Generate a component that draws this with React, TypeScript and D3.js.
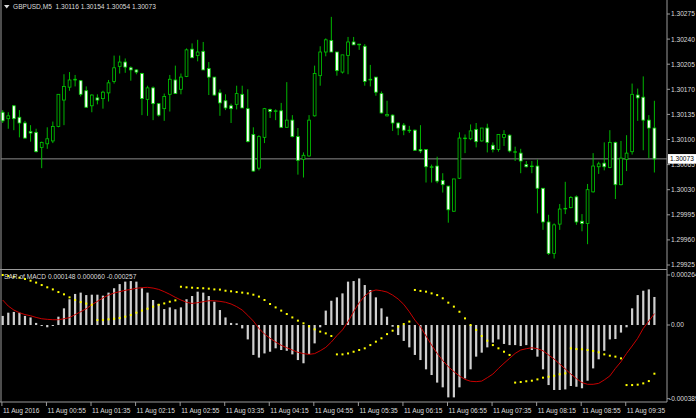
import * as d3 from 'd3';

// GBPUSD M5, 11 Aug 2016, bars from 00:15 to 10:00
const opens = [
  1.30138, 1.30129, 1.30147, 1.30131, 1.30123, 1.30111, 1.30110, 1.30089, 1.30094, 1.30098,
  1.30118, 1.30155, 1.30173, 1.30183, 1.30182, 1.30168, 1.30147, 1.30158, 1.30157, 1.30165,
  1.30181, 1.30202, 1.30208, 1.30200, 1.30197, 1.30192, 1.30156, 1.30172, 1.30150, 1.30143,
  1.30163, 1.30183, 1.30170, 1.30188, 1.30226, 1.30217, 1.30223, 1.30199, 1.30187, 1.30165,
  1.30154, 1.30147, 1.30149, 1.30163, 1.30143, 1.30107, 1.30060, 1.30103, 1.30142, 1.30139,
  1.30140, 1.30117, 1.30127, 1.30104, 1.30072, 1.30077, 1.30133, 1.30189, 1.30222, 1.30238,
  1.30222, 1.30194, 1.30217, 1.30236, 1.30233, 1.30230, 1.30184, 1.30187, 1.30164, 1.30133,
  1.30134, 1.30123, 1.30120, 1.30113, 1.30113, 1.30086, 1.30086, 1.30062, 1.30063, 1.30043,
  1.30035, 1.30000, 1.30046, 1.30102, 1.30101, 1.30114, 1.30098, 1.30116, 1.30092, 1.30086,
  1.30103, 1.30106, 1.30083, 1.30081, 1.30065, 1.30063, 1.30063, 1.30032, 1.29985, 1.29941,
  1.29982, 1.30004, 1.30005, 1.30020, 1.29986, 1.29983, 1.30027, 1.30062, 1.30067, 1.30061,
  1.30096, 1.30037, 1.30072, 1.30083, 1.30162, 1.30159, 1.30127, 1.30116,
];
const highs = [
  1.30141, 1.30138, 1.30148, 1.30141, 1.30126, 1.30120, 1.30115, 1.30097, 1.30117, 1.30125,
  1.30163, 1.30191, 1.30194, 1.30190, 1.30183, 1.30174, 1.30163, 1.30163, 1.30168, 1.30183,
  1.30217, 1.30217, 1.30213, 1.30202, 1.30198, 1.30193, 1.30175, 1.30174, 1.30151, 1.30164,
  1.30190, 1.30203, 1.30192, 1.30227, 1.30234, 1.30239, 1.30236, 1.30208, 1.30187, 1.30170,
  1.30163, 1.30150, 1.30175, 1.30175, 1.30170, 1.30117, 1.30106, 1.30144, 1.30143, 1.30142,
  1.30151, 1.30180, 1.30134, 1.30116, 1.30082, 1.30134, 1.30203, 1.30230, 1.30241, 1.30271,
  1.30222, 1.30218, 1.30243, 1.30243, 1.30233, 1.30233, 1.30204, 1.30187, 1.30167, 1.30154,
  1.30135, 1.30124, 1.30123, 1.30119, 1.30114, 1.30120, 1.30086, 1.30065, 1.30076, 1.30053,
  1.30035, 1.30045, 1.30110, 1.30107, 1.30121, 1.30123, 1.30116, 1.30122, 1.30096, 1.30107,
  1.30113, 1.30107, 1.30090, 1.30087, 1.30070, 1.30070, 1.30072, 1.30032, 1.29995, 1.29983,
  1.30010, 1.30041, 1.30021, 1.30022, 1.29996, 1.30038, 1.30081, 1.30069, 1.30096, 1.30113,
  1.30097, 1.30098, 1.30106, 1.30178, 1.30171, 1.30188, 1.30134, 1.30154,
];
const lows = [
  1.30123, 1.30115, 1.30113, 1.30103, 1.30101, 1.30097, 1.30082, 1.30060, 1.30087, 1.30095,
  1.30117, 1.30120, 1.30168, 1.30174, 1.30160, 1.30144, 1.30138, 1.30149, 1.30143, 1.30153,
  1.30178, 1.30192, 1.30193, 1.30182, 1.30191, 1.30134, 1.30133, 1.30127, 1.30132, 1.30126,
  1.30139, 1.30164, 1.30163, 1.30187, 1.30214, 1.30209, 1.30197, 1.30162, 1.30161, 1.30133,
  1.30141, 1.30123, 1.30142, 1.30144, 1.30096, 1.30055, 1.30057, 1.30095, 1.30130, 1.30127,
  1.30116, 1.30116, 1.30103, 1.30051, 1.30047, 1.30076, 1.30132, 1.30175, 1.30216, 1.30222,
  1.30189, 1.30192, 1.30191, 1.30232, 1.30225, 1.30175, 1.30174, 1.30161, 1.30136, 1.30132,
  1.30112, 1.30106, 1.30106, 1.30109, 1.30084, 1.30081, 1.30040, 1.30040, 1.30039, 1.30026,
  1.29984, 1.29999, 1.30045, 1.30081, 1.30099, 1.30089, 1.30097, 1.30082, 1.30082, 1.30083,
  1.30091, 1.30082, 1.30070, 1.30053, 1.30061, 1.30053, 1.29997, 1.29974, 1.29939, 1.29934,
  1.29974, 1.29996, 1.30004, 1.29981, 1.29972, 1.29954, 1.30026, 1.30052, 1.30057, 1.30060,
  1.30017, 1.30036, 1.30056, 1.30079, 1.30126, 1.30085, 1.30074, 1.30054,
];
const closes = [
  1.30126, 1.30133, 1.30129, 1.30123, 1.30102, 1.30109, 1.30083, 1.30096, 1.30101, 1.30118,
  1.30163, 1.30174, 1.30183, 1.30184, 1.30163, 1.30145, 1.30162, 1.30155, 1.30166, 1.30179,
  1.30200, 1.30208, 1.30201, 1.30197, 1.30194, 1.30157, 1.30172, 1.30150, 1.30134, 1.30160,
  1.30184, 1.30164, 1.30187, 1.30225, 1.30214, 1.30222, 1.30197, 1.30187, 1.30162, 1.30151,
  1.30144, 1.30143, 1.30164, 1.30144, 1.30097, 1.30056, 1.30104, 1.30143, 1.30139, 1.30140,
  1.30117, 1.30127, 1.30104, 1.30071, 1.30078, 1.30127, 1.30192, 1.30222, 1.30239, 1.30222,
  1.30196, 1.30218, 1.30236, 1.30232, 1.30232, 1.30181, 1.30183, 1.30166, 1.30137, 1.30135,
  1.30123, 1.30116, 1.30113, 1.30113, 1.30085, 1.30084, 1.30062, 1.30062, 1.30042, 1.30037,
  1.30002, 1.30045, 1.30102, 1.30102, 1.30112, 1.30097, 1.30116, 1.30096, 1.30086, 1.30107,
  1.30107, 1.30084, 1.30083, 1.30070, 1.30062, 1.30063, 1.30032, 1.29985, 1.29941, 1.29981,
  1.30003, 1.30004, 1.30019, 1.29985, 1.29983, 1.30030, 1.30063, 1.30066, 1.30062, 1.30096,
  1.30037, 1.30074, 1.30081, 1.30163, 1.30158, 1.30127, 1.30116, 1.30073,
];

// indicator values, in millionths (x 1e-6)
const macdMain = [
  48, 65, 69, 65, 48, 40, 11, -5, -12, -5,
  44, 88, 136, 164, 171, 158, 160, 160, 155, 171,
  194, 216, 229, 232, 229, 194, 171, 132, 111, 84,
  93, 83, 93, 136, 153, 176, 171, 153, 123, 79,
  40, 11, 9, -18, -76, -158, -172, -150, -141, -123,
  -132, -136, -155, -185, -202, -153, -97, -12, 76, 128,
  146, 167, 229, 232, 246, 211, 185, 146, 88, 44,
  -9, -53, -84, -118, -158, -185, -234, -264, -304, -329,
  -382, -382, -329, -282, -234, -167, -146, -118, -93, -76,
  -100, -106, -106, -111, -106, -132, -167, -234, -317, -343,
  -343, -340, -322, -326, -334, -294, -229, -181, -136, -76,
  -74, -40, -12, 88, 158, 181, 188, 148,
];
const macdSignal = [
  132, 100, 79, 65, 55, 49, 40, 33, 30, 28,
  28, 33, 39, 55, 70, 86, 107, 125, 143, 158,
  169, 176, 183, 188, 194, 197, 199, 195, 188, 176,
  162, 146, 132, 120, 114, 118, 123, 128, 128, 125,
  120, 111, 97, 79, 51, 21, -18, -48, -70, -90,
  -107, -120, -132, -144, -151, -155, -151, -136, -118, -90,
  -56, -26, 18, 70, 118, 153, 176, 185, 181, 174,
  158, 137, 109, 70, 26, -9, -58, -106, -150, -188,
  -220, -246, -269, -287, -297, -299, -296, -278, -259, -229,
  -202, -176, -150, -132, -125, -120, -125, -136, -158, -180,
  -206, -232, -259, -283, -304, -313, -313, -308, -290, -269,
  -229, -194, -150, -111, -70, -18, 21, 60,
];
const sarValues = [
  264, 259, 255, 250, 243, 234, 224, 211, 199, 188,
  174, 162, 146, 132, 121, 113, 107, 26, 26, 30,
  33, 37, 44, 53, 65, 76, 86, 97, 107, 114,
  123, 130, 202, 199, 197, 195, 194, 192, 188, 187,
  181, 178, 174, 171, 167, 160, 150, 132, 111, 93,
  76, 58, 40, 23, 9, -7, -23, -35, -44, -58,
  -155, -155, -150, -141, -132, -123, -106, -88, -70, -48,
  -30, -9, 5, 18, 185, 180, 176, 167, 158, 141,
  118, 97, 70, 35, 0, -26, -58, -83, -106, -123,
  -141, -158, -304, -301, -297, -294, -287, -278, -273, -268,
  -260, -255, -123, -127, -128, -132, -137, -144, -155, -162,
  -167, -176, -317, -317, -315, -308, -296, -257,
];

const timeLabels = [
  '11 Aug 2016', '11 Aug 00:55', '11 Aug 01:35', '11 Aug 02:15', '11 Aug 02:55',
  '11 Aug 03:35', '11 Aug 04:15', '11 Aug 04:55', '11 Aug 05:35', '11 Aug 06:15',
  '11 Aug 06:55', '11 Aug 07:35', '11 Aug 08:15', '11 Aug 08:55', '11 Aug 09:35',
];
const priceTicks = [1.30275, 1.3024, 1.30205, 1.3017, 1.30135, 1.301, 1.30065, 1.3003, 1.29995, 1.2996, 1.29925];
const macdTicks = [264, 0, -389];
const macdTickLabels = ['0.000264', '0.00', '-0.000389'];

const FONT = 'Liberation Sans, Arial, sans-serif';
const TXT = '#dcdcdc';
const GRID = '#9a9a9a';
const CANDLE = '#00cc00';
const W = 696;
const H = 418;
const AXIS_X = 667;

export default function App() {
  const n = closes.length;
  const x = d3.scaleLinear().domain([0, n - 1]).range([2.7, 654.4]);
  const y = d3.scaleLinear().domain([1.29925, 1.30275]).range([265, 14]);
  const ym = d3.scaleLinear().domain([-389, 264]).range([398.7, 275]);

  const signalPath = d3.line<number>()
    .x((_, i) => x(i))
    .y(v => ym(v))(macdSignal) || '';

  const last = closes[n - 1];
  const bodyW = 2.8;

  return (
    <svg width={W} height={H} style={{ position: 'absolute', left: 0, top: 0, display: 'block' }}
      fontFamily={FONT}>
      <rect x={0} y={0} width={W} height={H} fill="#000" />

      {/* frame */}
      <line x1={1} y1={0} x2={1} y2={402} stroke={GRID} />
      <line x1={AXIS_X} y1={0} x2={AXIS_X} y2={402} stroke={GRID} />
      <line x1={0} y1={269.5} x2={AXIS_X} y2={269.5} stroke={GRID} />
      <line x1={0} y1={402} x2={AXIS_X} y2={402} stroke={GRID} />

      {/* current bid line */}
      <line x1={1} y1={y(last)} x2={AXIS_X} y2={y(last)} stroke="#8a8a8a" />

      {/* candles */}
      {closes.map((c, i) => {
        const o = opens[i];
        const bull = c >= o;
        const top = y(Math.max(o, c));
        const bot = y(Math.min(o, c));
        const cx = x(i);
        return (
          <g key={i}>
            <line x1={cx} x2={cx} y1={y(highs[i])} y2={y(lows[i])} stroke={CANDLE} strokeWidth={0.9} />
            <rect x={cx - bodyW / 2} y={top} width={bodyW} height={Math.max(bot - top, 0.6)}
              fill={bull ? '#000' : '#fff'} stroke={CANDLE} strokeWidth={0.8} />
          </g>
        );
      })}

      {/* MACD histogram */}
      {macdMain.map((v, i) => (
        <rect key={i} x={x(i) - 1.1} width={2.2}
          y={Math.min(ym(v), ym(0))} height={Math.max(Math.abs(ym(v) - ym(0)), 1)}
          fill="#cfcfcf" />
      ))}
      <path d={signalPath} fill="none" stroke="#c80000" strokeWidth={1} />
      {sarValues.map((v, i) => (
        <rect key={i} x={x(i) - 1} y={ym(v) - 1} width={2} height={2} fill="#ffff00" />
      ))}

      {/* headers */}
      <path d="M4,5 L9.5,5 L6.75,8.5 Z" fill={TXT} />
      <text x={13} y={9.2} fontSize={6.6} fill={TXT}>
        GBPUSD,M5{'\u00a0\u00a0'}1.30116 1.30154 1.30054 1.30073
      </text>
      <text x={4} y={279} fontSize={6.6} fill={TXT}>SAR of MACD 0.000148 0.000060 -0.000257</text>

      {/* price axis */}
      {priceTicks.map(p => (
        <g key={p}>
          <line x1={AXIS_X} x2={AXIS_X + 3} y1={y(p)} y2={y(p)} stroke={GRID} />
          <text x={671} y={y(p) + 2.4} fontSize={6.6} fill={TXT}>{p.toFixed(5)}</text>
        </g>
      ))}
      <rect x={668} y={y(last) - 4.8} width={28} height={9.6} fill="#fff" />
      <text x={670} y={y(last) + 2.4} fontSize={6.6} fill="#000">{last.toFixed(5)}</text>

      {/* MACD axis */}
      {macdTicks.map((v, k) => (
        <g key={v}>
          <line x1={AXIS_X} x2={AXIS_X + 3} y1={ym(v)} y2={ym(v)} stroke={GRID} />
          <text x={v < 0 ? 669 : 671} y={ym(v) + 2.4} fontSize={6.6} fill={TXT}>{macdTickLabels[k]}</text>
        </g>
      ))}

      {/* time axis */}
      {timeLabels.map((t, k) => {
        const tx = x(k * 8) - 0.8;
        return (
          <g key={t}>
            <line x1={tx} x2={tx} y1={402} y2={406} stroke={GRID} />
            <text x={tx + 1} y={412.5} fontSize={6.6} fill={TXT}>{t}</text>
          </g>
        );
      })}
    </svg>
  );
}
